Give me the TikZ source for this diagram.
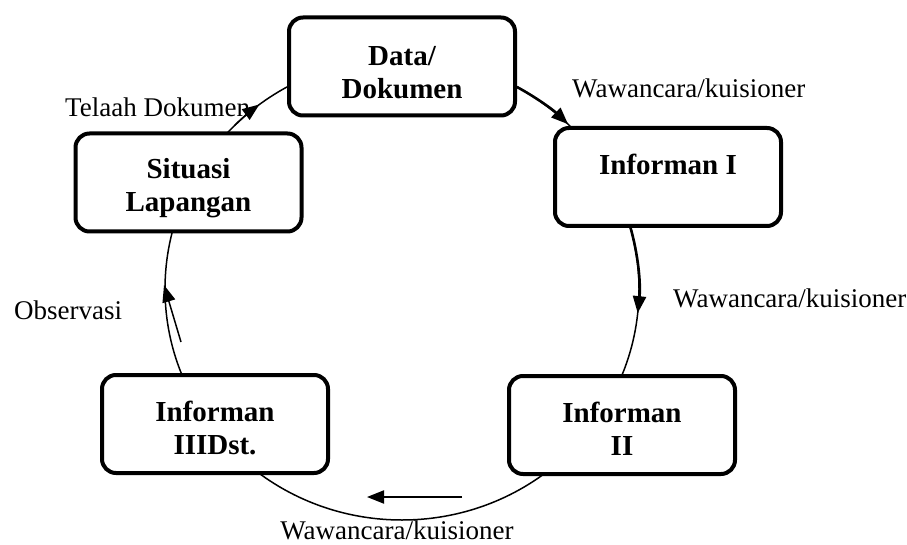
\documentclass[tikz,border=0pt]{standalone}
\usepackage{fontspec}
\setmainfont{Liberation Serif}
\usetikzlibrary{arrows.meta,calc}
\begin{document}
\begin{tikzpicture}[x=1pt,y=-1pt,
 box/.style={draw,line width=4pt,rounded corners=14pt,fill=white,minimum width=226pt,minimum height=98pt,inner sep=0pt},
 btxt/.style={align=center,font=\fontsize{29}{33}\selectfont\bfseries,inner sep=0pt},
 lbl/.style={font=\fontsize{27}{30}\selectfont,inner sep=0pt},
 ring/.style={line width=1.5pt},
 tip/.style={-{Triangle[length=17pt,width=13pt]}},
 ell/.style={x radius=237pt,y radius=231pt}
]
\useasboundingbox (0,0) rectangle (907,545);
\coordinate (C) at (402,289);
\draw[ring] (C) ellipse [ell];
% arcs with arrows
\coordinate (a1) at ($(C)+(61:237pt and 231pt)$);
\draw[line width=2.6pt,tip] (a1) arc[start angle=61,end angle=45.5,ell];
\coordinate (a2) at ($(C)+(16:237pt and 231pt)$);
\draw[line width=2.6pt,tip] (a2) arc[start angle=16,end angle=-6,ell];
\coordinate (a3) at ($(C)+(135:237pt and 231pt)$);
\draw[ring,tip] (a3) arc[start angle=135,end angle=127,ell];
\coordinate (o1) at (181,342);
\coordinate (o2) at (164,285);
\draw[ring,tip] (o1) -- (o2);
\coordinate (b1) at (462,497);
\coordinate (b2) at (367,497);
\draw[line width=2pt,tip] (b1) -- (b2);
% boxes
\node[box] (data) at (402,66.5) {};
\node[box] (inf1) at (668,177) {};
\node[box] (sit) at (188.5,182.5) {};
\node[box] (inf3) at (215,424) {};
\node[box] (inf2) at (622,425) {};
\node[btxt] (datat) at (402,73) {Data/\\Dokumen};
\node[btxt] (inf1t) at (668,164) {Informan I};
\node[btxt] (sitt) at (188.5,188) {Situasi\\Lapangan};
\node[btxt] (inf3t) at (215,428) {Informan\\IIIDst.};
\node[btxt] (inf2t) at (622,429) {Informan\\II};
% labels
\node[lbl,anchor=west] (l1) at (572,88) {Wawancara/kuisioner};
\node[lbl,anchor=west] (l2) at (673,298) {Wawancara/kuisioner};
\node[lbl] (l3) at (397,530) {Wawancara/kuisioner};
\node[lbl,anchor=west] (l4) at (65,107) {Telaah Dokumen};
\node[lbl,anchor=west] (l5) at (14,310) {Observasi};
\end{tikzpicture}
\end{document}
